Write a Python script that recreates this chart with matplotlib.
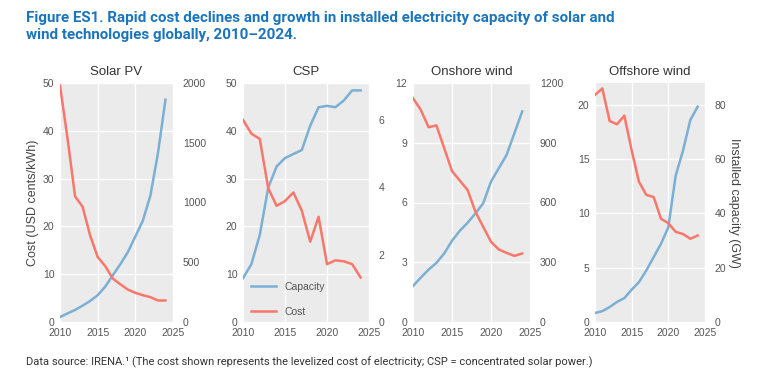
import matplotlib
matplotlib.use("Agg")
import matplotlib.pyplot as plt
from matplotlib import font_manager

years = list(range(2010, 2025))

solar_cost = [49.5, 38.4, 26.3, 24.1, 18.1, 13.6, 11.7, 9.1, 7.9, 6.8, 6.1, 5.6, 5.2, 4.5, 4.5]
solar_cap = [41, 72, 101, 137, 176, 224, 296, 390, 483, 584, 715, 849, 1058, 1412, 1860]

csp_cost = [42.3, 39.4, 38.3, 28.0, 24.3, 25.3, 27.1, 23.3, 16.8, 22.0, 12.1, 12.9, 12.7, 12.1, 9.3]
csp_cap = [1.30, 1.72, 2.59, 3.99, 4.62, 4.87, 4.99, 5.11, 5.83, 6.38, 6.42, 6.38, 6.58, 6.88, 6.88]

onshore_cost = [11.24, 10.65, 9.78, 9.87, 8.73, 7.58, 7.10, 6.63, 5.54, 4.78, 4.03, 3.64, 3.47, 3.32, 3.44]
onshore_cap = [181, 223, 263, 297, 344, 408, 458, 498, 545, 596, 705, 772, 839, 948, 1057]

offshore_cost = [20.9, 21.5, 18.5, 18.2, 19.0, 15.8, 12.9, 11.7, 11.5, 9.5, 9.1, 8.3, 8.1, 7.66, 7.96]
offshore_cap = [3.3, 4.0, 5.5, 7.4, 8.8, 11.9, 14.7, 19.0, 23.9, 28.8, 34.9, 53.9, 63.1, 74.4, 79.3]

panel_titles = ["Solar PV", "CSP", "Onshore wind", "Offshore wind"]
x_ticks = [2010, 2015, 2020, 2025]

available = {f.name for f in font_manager.fontManager.ttflist}
narrow = "Liberation Sans Narrow" if "Liberation Sans Narrow" in available else "Roboto"
SANS = ["Liberation Sans", "DejaVu Sans"]
plt.rcParams["font.family"] = SANS

BLUE = "#7bafd4"
RED = "#f8776b"
BG = "#ebebeb"
TICK = "#555555"

fig = plt.figure(figsize=(7.68, 3.87), dpi=100)
W, H = 768, 387

panels = [
    dict(x0=60, x1=173, cost=solar_cost, cap=solar_cap, ylim=(0, 50), yt=[0, 10, 20, 30, 40, 50],
         y2lim=(0, 2000), y2t=[0, 500, 1000, 1500, 2000]),
    dict(x0=243, x1=369, cost=csp_cost, cap=csp_cap, ylim=(0, 50), yt=[0, 10, 20, 30, 40, 50],
         y2lim=(0, 7.1), y2t=[0, 2, 4, 6]),
    dict(x0=413, x1=530, cost=onshore_cost, cap=onshore_cap, ylim=(0, 12), yt=[0, 3, 6, 9, 12],
         y2lim=(0, 1200), y2t=[0, 300, 600, 900, 1200]),
    dict(x0=595, x1=705, cost=offshore_cost, cap=offshore_cap, ylim=(0, 22), yt=[0, 5, 10, 15, 20],
         y2lim=(0, 88), y2t=[0, 20, 40, 60, 80]),
]

top, bottom = 83, 322
for i, p in enumerate(panels):
    rect = [p["x0"] / W, (H - bottom) / H, (p["x1"] - p["x0"]) / W, (bottom - top) / H]
    bgax = fig.add_axes(rect, zorder=0)
    bgax.set_facecolor(BG)
    bgax.set_xlim(2010, 2025); bgax.set_ylim(*p["ylim"])
    bgax.set_xticks(x_ticks); bgax.set_yticks(p["yt"])
    bgax.grid(True, color="white", linewidth=1.0)
    bgax.tick_params(length=0, labelbottom=False, labelleft=False)
    for s in bgax.spines.values():
        s.set_visible(False)

    ax2 = fig.add_axes(rect, zorder=1)
    ax2.patch.set_visible(False)
    ax2.set_xlim(2010, 2025)
    ax2.set_ylim(*p["y2lim"])
    ax2.set_yticks(p["y2t"])
    ax2.yaxis.tick_right()
    ax2.yaxis.set_label_position("right")
    ax2.set_xticks([])
    for s in ax2.spines.values():
        s.set_visible(False)
    ax2.tick_params(length=0, labelsize=7.5, colors=TICK, pad=7)
    l1, = ax2.plot(years, p["cap"], color=BLUE, linewidth=1.8, label="Capacity")

    ax = fig.add_axes(rect, zorder=2)
    ax.patch.set_visible(False)
    ax.set_xlim(2010, 2025)
    ax.set_ylim(*p["ylim"])
    ax.set_xticks(x_ticks)
    ax.set_yticks(p["yt"])
    for s in ax.spines.values():
        s.set_visible(False)
    ax.tick_params(length=0, labelsize=7.5, colors=TICK, pad=4)
    l2, = ax.plot(years, p["cost"], color=RED, linewidth=1.8, label="Cost")

    ax.set_title(panel_titles[i], fontsize=9.5, color="#333333", pad=6)
    if i == 0:
        ax.set_ylabel("Cost (USD cents/kWh)", fontsize=9, color="#444444")
        ax.yaxis.set_label_coords(-0.19, 0.5)
    if i == 3:
        ax2.set_ylabel("Installed capacity (GW)", fontsize=9, color="#444444", rotation=270, labelpad=10)
    if i == 1:
        ax.legend([l1, l2], ["Capacity", "Cost"], loc="lower left", frameon=False,
                  fontsize=7.5, labelcolor="#555555", handlelength=2.4, borderaxespad=0.1,
                  labelspacing=1.45, bbox_to_anchor=(0.02, 0.0))

fig.text(26 / W, 1 - 11 / H,
         "Figure ES1. Rapid cost declines and growth in installed electricity capacity of solar and\n"
         "wind technologies globally, 2010\u20132024.",
         fontsize=10.9, fontweight="bold", color="#1b75bc", family=[narrow, "DejaVu Sans"],
         va="top", ha="left", linespacing=1.3)
fig.text(26 / W, 1 - 362 / H,
         "Data source: IRENA.\u00b9 (The cost shown represents the levelized cost of electricity; CSP = concentrated solar power.)",
         fontsize=8.0, color="#333333", family=[narrow, "DejaVu Sans"], va="center", ha="left")

fig.savefig("out.png", dpi=100)
